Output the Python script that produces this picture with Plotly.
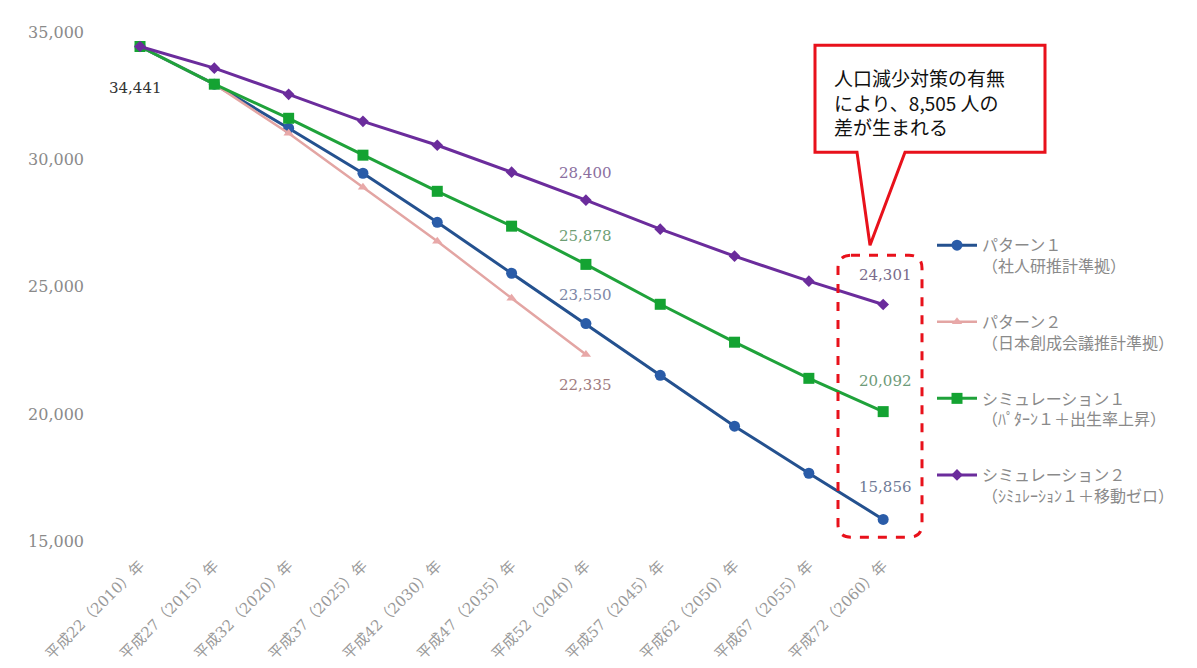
import plotly.graph_objects as go

years = ["平成22（2010）年", "平成27（2015）年", "平成32（2020）年", "平成37（2025）年",
         "平成42（2030）年", "平成47（2035）年", "平成52（2040）年", "平成57（2045）年",
         "平成62（2050）年", "平成67（2055）年", "平成72（2060）年"]

pattern1 = [34441, 32960, 31230, 29460, 27530, 25530, 23550, 21520, 19520, 17670, 15856]
pattern2 = [34441, 32960, 31030, 28910, 26790, 24550, 22335]
sim1 = [34441, 32960, 31620, 30170, 28750, 27380, 25878, 24310, 22820, 21400, 20092]
sim2 = [34441, 33590, 32560, 31500, 30560, 29500, 28400, 27260, 26200, 25220, 24301]

names = ["パターン１<br>（社人研推計準拠）",
         "パターン２<br>（日本創成会議推計準拠）",
         "シミュレーション１<br>（ﾊﾟﾀｰﾝ１＋出生率上昇）",
         "シミュレーション２<br>（ｼﾐｭﾚｰｼｮﾝ１＋移動ゼロ）"]

W, H = 1197, 668
OFF = 8  # page body margin
# plot area in screen pixels
PL, PR, PT, PB = 105, 930, 16.7, 558.8
PW = PR - PL
PH = PB - PT

def px(x):
    return (x - PL) / PW

def py(y):
    return (PB - y) / PH

serif = "DejaVu Serif, Liberation Serif, Noto Sans CJK JP, serif"
fig = go.Figure()

xi = list(range(len(years)))
fig.add_trace(go.Scatter(x=xi, y=pattern1, name=names[0], legendgroup="a", mode="lines+markers",
                         line=dict(color="#24518F", width=3),
                         marker=dict(symbol="circle", size=11, color="#2A5CA8")))
fig.add_trace(go.Scatter(x=xi[:len(pattern2)], y=pattern2, name=names[1], legendgroup="b",
                         mode="lines+markers",
                         line=dict(color="#E3A5A3", width=2.5),
                         marker=dict(symbol="triangle-up", size=9, color="#E8A8A8")))
fig.add_trace(go.Scatter(x=xi, y=sim1, name=names[2], legendgroup="c", mode="lines+markers",
                         line=dict(color="#1FA23A", width=3),
                         marker=dict(symbol="square", size=11, color="#14A332")))
fig.add_trace(go.Scatter(x=xi, y=sim2, name=names[3], legendgroup="d", mode="lines+markers",
                         line=dict(color="#6B2C9C", width=3),
                         marker=dict(symbol="diamond", size=9, color="#6B2C9C")))

# data labels
labels = [
    (0, pattern1[0], "34,441", "#333333", -42, -5),
    (6, sim2[6], "28,400", "#8B6FA0", 27, 0),
    (6, sim1[6], "25,878", "#6E9E74", 28, 0),
    (6, pattern1[6], "23,550", "#7D87A6", 29, 0),
    (6, pattern2[6], "22,335", "#A07C80", -30, 0),
    (10, sim2[10], "24,301", "#7A6C8C", 30, 2),
    (10, sim1[10], "20,092", "#6D9A78", 31, 2),
    (10, pattern1[10], "15,856", "#6E7A96", 32, 2),
]
for x, y, t, c, ys, xs in labels:
    fig.add_annotation(x=x, y=y, text=t, showarrow=False, yshift=ys, xshift=xs,
                       font=dict(family=serif, size=15, color=c))

# callout box
path = (f"M {px(815)},{py(45)} L {px(1045)},{py(45)} L {px(1045)},{py(152)} "
        f"L {px(905)},{py(152)} L {px(870)},{py(245)} L {px(857)},{py(152)} "
        f"L {px(815)},{py(152)} Z")
fig.add_shape(type="path", path=path, xref="paper", yref="paper",
              line=dict(color="#E8111B", width=3), fillcolor="white", layer="above")
fig.add_annotation(xref="paper", yref="paper", x=px(832), y=py(102), xanchor="left",
                   yanchor="middle", align="left", showarrow=False,
                   text="人口減少対策の有無<br>により、8,505 人の<br>差が生まれる",
                   font=dict(family="Noto Sans CJK JP", size=19, color="#111111"))

# dashed rounded rect
x0, x1, y0, y1, r = 838, 922, 255, 537, 13
rr = (f"M {px(x0+r)},{py(y0)} L {px(x1-r)},{py(y0)} Q {px(x1)},{py(y0)} {px(x1)},{py(y0+r)} "
      f"L {px(x1)},{py(y1-r)} Q {px(x1)},{py(y1)} {px(x1-r)},{py(y1)} "
      f"L {px(x0+r)},{py(y1)} Q {px(x0)},{py(y1)} {px(x0)},{py(y1-r)} "
      f"L {px(x0)},{py(y0+r)} Q {px(x0)},{py(y0)} {px(x0+r)},{py(y0)} Z")
fig.add_shape(type="path", path=rr, xref="paper", yref="paper",
              line=dict(color="#E8111B", width=3, dash="dash"), layer="above")

ml = PL - OFF
mt = PT - OFF
mr = W - ml - PW
mb = H - mt - PH

fig.update_layout(
    width=W, height=H,
    margin=dict(l=ml, r=mr, t=mt, b=mb, autoexpand=False),
    paper_bgcolor="white", plot_bgcolor="white",
    font=dict(family=serif, color="#888888"),
    showlegend=True,
    legend=dict(x=px(932), y=py(228), xanchor="left", yanchor="top", valign="top",
                font=dict(family=serif, size=16, color="#8A8A8A"),
                tracegroupgap=32, itemwidth=40, bgcolor="rgba(0,0,0,0)"),
    xaxis=dict(tickmode="array", tickvals=xi, ticktext=years, tickangle=-45,
               range=[-0.471, 10.63], showgrid=False, zeroline=False, showline=False,
               ticks="", automargin=False, ticklabelstandoff=-6,
               tickfont=dict(family=serif, size=15, color="#9A9A9A")),
    yaxis=dict(range=[14300, 35600], tickvals=[15000, 20000, 25000, 30000, 35000],
               tickformat=",", showgrid=False, zeroline=False, showline=False,
               ticks="", ticklabelstandoff=20, automargin=False,
               tickfont=dict(family=serif, size=16, color="#8A8A8A")),
)

fig.write_html("out.html")
